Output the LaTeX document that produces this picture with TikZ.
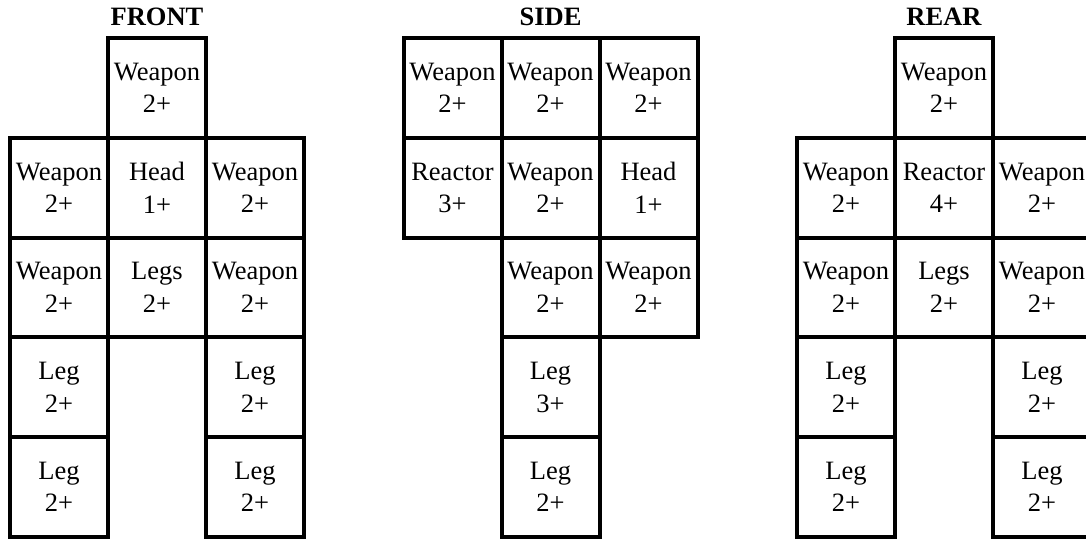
\documentclass[tikz,border=0pt]{standalone}
\usepackage{fontspec}
\setmainfont{Liberation Serif}
\begin{document}
\begin{tikzpicture}[x=1pt,y=-1pt,
    cell/.style={draw,line width=4pt,minimum width=98pt,minimum height=99.8pt,inner sep=0pt,align=center,font=\fontsize{26.5}{32.5}\selectfont},
    title/.style={font=\fontsize{26.5}{32}\selectfont\bfseries}]
    \useasboundingbox (0,0) rectangle (1086,539);
    % titles
    \node[title] (tfront) at (157,17) {FRONT};
    \node[title] (tside) at (550.5,17) {SIDE};
    \node[title] (trear) at (944,17) {REAR};
    % front
    \node[cell] (fw1) at (157,88) {Weapon\\2+};
    \node[cell] (fw2) at (59,188) {Weapon\\2+};\node[cell] (fhead) at (157,188) {Head\\1+};\node[cell] (fw3) at (255,188) {Weapon\\2+};
    \node[cell] (fw4) at (59,287.5) {Weapon\\2+};\node[cell] (flegs) at (157,287.5) {Legs\\2+};\node[cell] (fw5) at (255,287.5) {Weapon\\2+};
    \node[cell] (fleg1) at (59,387.3) {Leg\\2+};\node[cell] (fleg2) at (255,387.3) {Leg\\2+};
    \node[cell] (fleg3) at (59,487) {Leg\\2+};\node[cell] (fleg4) at (255,487) {Leg\\2+};
    % side
    \node[cell] (sw1) at (452.5,88) {Weapon\\2+};\node[cell] (sw2) at (550.5,88) {Weapon\\2+};\node[cell] (sw3) at (648.5,88) {Weapon\\2+};
    \node[cell] (sreactor) at (452.5,188) {Reactor\\3+};\node[cell] (sw4) at (550.5,188) {Weapon\\2+};\node[cell] (shead) at (648.5,188) {Head\\1+};
    \node[cell] (sw5) at (550.5,287.5) {Weapon\\2+};\node[cell] (sw6) at (648.5,287.5) {Weapon\\2+};
    \node[cell] (sleg1) at (550.5,387.3) {Leg\\3+};
    \node[cell] (sleg2) at (550.5,487) {Leg\\2+};
    % rear
    \node[cell] (rw1) at (944,88) {Weapon\\2+};
    \node[cell] (rw2) at (846,188) {Weapon\\2+};\node[cell] (rreactor) at (944,188) {Reactor\\4+};\node[cell] (rw3) at (1042,188) {Weapon\\2+};
    \node[cell] (rw4) at (846,287.5) {Weapon\\2+};\node[cell] (rlegs) at (944,287.5) {Legs\\2+};\node[cell] (rw5) at (1042,287.5) {Weapon\\2+};
    \node[cell] (rleg1) at (846,387.3) {Leg\\2+};\node[cell] (rleg2) at (1042,387.3) {Leg\\2+};
    \node[cell] (rleg3) at (846,487) {Leg\\2+};\node[cell] (rleg4) at (1042,487) {Leg\\2+};
\end{tikzpicture}
\end{document}
